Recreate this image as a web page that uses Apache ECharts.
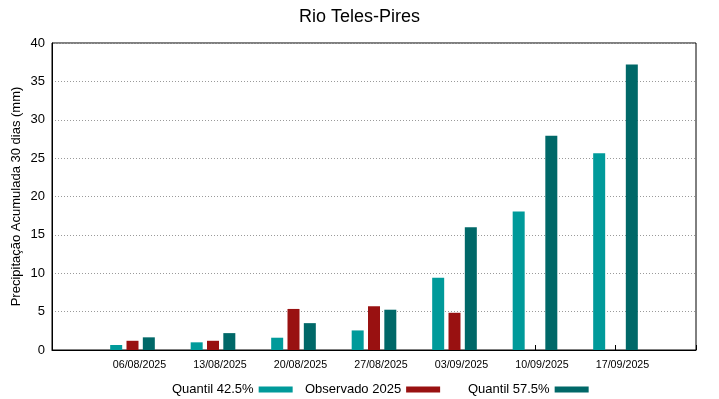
<!DOCTYPE html>
<html>
<head>
<meta charset="utf-8">
<script src="https://cdn.jsdelivr.net/npm/echarts@6/dist/echarts.min.js"></script>
<style>
  html, body { margin: 0; padding: 0; background: #fff; }
  #chart { width: 719px; height: 399px; }
</style>
</head>
<body>
<div id="chart"></div>
<script>
// categorias (com posições vazias nas pontas, como no gnuplot)
const dates = ['', '06/08/2025', '13/08/2025', '20/08/2025', '27/08/2025', '03/09/2025', '10/09/2025', '17/09/2025', ''];
const quantil425 = [null, 0.65, 1.0, 1.6, 2.55, 9.4, 18.05, 25.65, null];
const observado = [null, 1.2, 1.2, 5.35, 5.7, 4.85, null, null, null];
const quantil575 = [null, 1.65, 2.2, 3.5, 5.25, 16.0, 27.9, 37.2, null];

const seriesNames = ['Quantil 42.5%', 'Observado 2025', 'Quantil 57.5%'];
const legendLeft = [167, 300, 463];

const chart = echarts.init(document.getElementById('chart'));

const font = 'Liberation Sans, Arial, sans-serif';

// uma legenda por série, para posicionar como no original
const legends = seriesNames.map((name, i) => ({
  left: legendLeft[i],
  top: 378,
  align: 'right',
  itemWidth: 34,
  itemHeight: 6,
  icon: 'rect',
  textStyle: { fontFamily: font, fontSize: 13, color: '#000' },
  data: [name]
}));

const option = {
  animation: false,
  title: {
    text: 'Rio Teles-Pires',
    left: 'center',
    top: 3,
    textStyle: { fontFamily: font, fontSize: 18, fontWeight: 'normal', color: '#000' }
  },
  legend: legends,
  grid: {
    left: 52,
    right: 23,
    top: 43,
    bottom: 49,
    show: true,
    borderColor: '#000',
    borderWidth: 1,
    outerBoundsMode: 'none',
    containLabel: false
  },
  xAxis: {
    type: 'category',
    data: dates,
    boundaryGap: false,
    axisLine: { lineStyle: { color: '#000' } },
    axisTick: { inside: true, length: 5, lineStyle: { color: '#000' } },
    axisLabel: {
      fontFamily: font, fontSize: 10.7, color: '#000',
      margin: 10, padding: [0, 0, 0, 14], interval: 0
    },
    splitLine: { show: false }
  },
  yAxis: {
    type: 'value',
    min: 0,
    max: 40,
    interval: 5,
    name: 'Precipitação Acumulada 30 dias (mm)',
    nameLocation: 'middle',
    nameGap: 29,
    nameMoveOverlap: false,
    nameTextStyle: { fontFamily: font, fontSize: 13, color: '#000' },
    axisLine: { show: true, lineStyle: { color: '#000' } },
    axisTick: { show: false },
    axisLabel: { fontFamily: font, fontSize: 13, color: '#000', margin: 7 },
    splitLine: { show: true, lineStyle: { color: '#9a9a9a', type: [1, 2], width: 1 } }
  },
  series: [
    {
      name: 'Quantil 42.5%',
      type: 'bar',
      data: quantil425,
      barWidth: 12,
      barGap: '36%',
      itemStyle: { color: '#009a9a' }
    },
    {
      name: 'Observado 2025',
      type: 'bar',
      data: observado,
      barWidth: 12,
      barGap: '36%',
      itemStyle: { color: '#991111' }
    },
    {
      name: 'Quantil 57.5%',
      type: 'bar',
      data: quantil575,
      barWidth: 12,
      barGap: '36%',
      itemStyle: { color: '#006868' }
    }
  ]
};

chart.setOption(option);
</script>
</body>
</html>
